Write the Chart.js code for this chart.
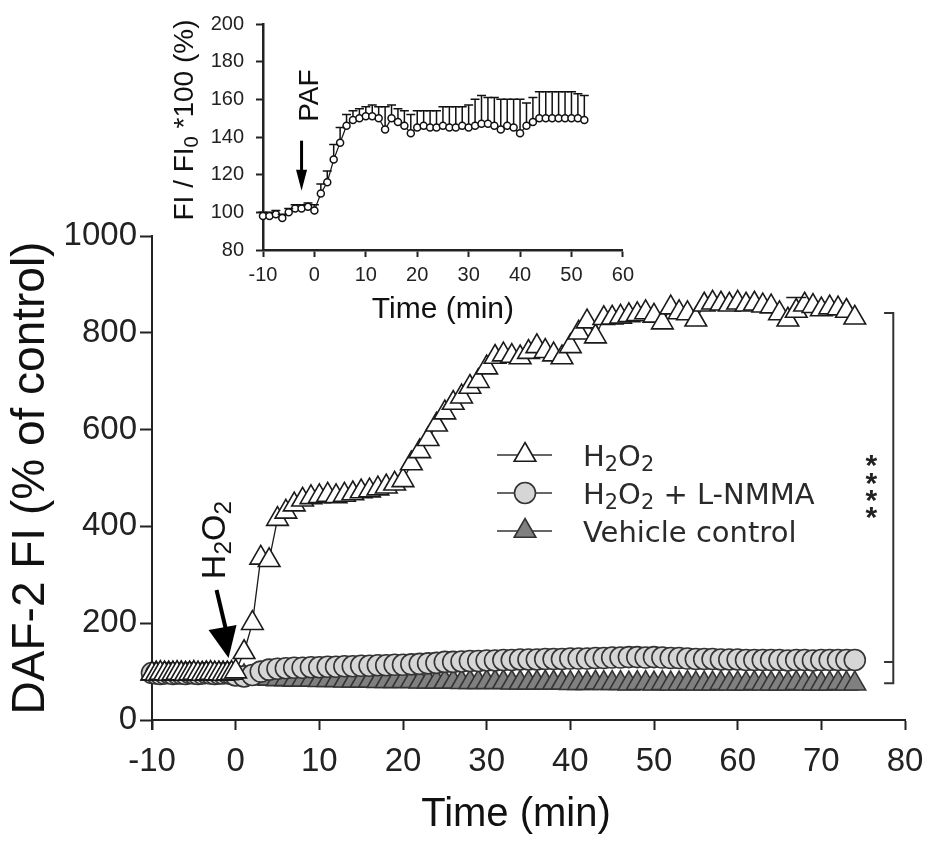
<!DOCTYPE html>
<html>
<head>
<meta charset="utf-8">
<script src="https://cdn.jsdelivr.net/npm/chart.js@4.4.0/dist/chart.umd.min.js"></script>
<style>
  html, body { margin: 0; padding: 0; background: #fff; }
  #wrap { position: relative; width: 944px; height: 843px; }
  #main { position: absolute; left: 0; top: 0; }
  #inset { position: absolute; left: 160px; top: 0; }
</style>
</head>
<body>
<div id="wrap">
  <canvas id="main" width="944" height="843"></canvas>
  <canvas id="inset" width="480" height="340"></canvas>
</div>
<script>
// ---- main panel data (time in min, DAF-2 FI in % of control) ----
const mainTime = [
  -10, -9.5, -9, -8.5, -8, -7.5, -7, -6.5, -6, -5.5, -5, -4.5, -4, -3.5, -3, -2.5, -2, -1.5, -1, -0.5,
  0, 1, 2, 3, 4, 5, 6, 7, 8, 9, 10, 11, 12, 13, 14, 15, 16, 17, 18, 19,
  20, 21, 22, 23, 24, 25, 26, 27, 28, 29, 30, 31, 32, 33, 34, 35, 36, 37, 38, 39,
  40, 41, 42, 43, 44, 45, 46, 47, 48, 49, 50, 51, 52, 53, 54, 55, 56, 57, 58, 59,
  60, 61, 62, 63, 64, 65, 66, 67, 68, 69, 70, 71, 72, 73, 74
];
const h2o2 = [
  96, 95, 97, 96, 95, 96, 97, 96, 95, 96, 97, 96, 95, 96, 97, 96, 96, 95, 96, 97,
  100, 140, 200, 335, 330, 415, 430, 445, 455, 460, 462, 465, 462, 465, 468, 472, 474, 478, 482, 488,
  495, 530, 555, 580, 610, 635, 655, 668, 688, 700, 728, 750, 755, 752, 749, 760, 772, 762, 755, 749,
  772, 800, 823, 792, 830, 831, 833, 836, 838, 842, 835, 821, 852, 842, 840, 827, 858, 862, 860, 858,
  862, 858, 860, 856, 854, 840, 827, 845, 858, 855, 848, 852, 850, 845, 831
];
const h2o2Sem = [
  3, 3, 3, 3, 3, 3, 3, 3, 3, 3, 3, 3, 3, 3, 3, 3, 3, 3, 3, 3,
  4, 8, 12, 18, 18, 14, 12, 12, 13, 12, 12, 13, 12, 12, 13, 12, 12, 13, 12, 12,
  14, 16, 18, 18, 20, 18, 18, 20, 18, 18, 20, 20, 18, 18, 20, 22, 20, 18, 20, 22,
  20, 20, 22, 24, 20, 18, 22, 24, 20, 22, 25, 22, 20, 24, 22, 20, 22, 24, 22, 20,
  22, 24, 20, 22, 22, 25, 24, 28, 22, 20, 22, 24, 22, 20, 22
];
const lnmma = [
  97, 96, 95, 96, 97, 95, 96, 96, 95, 97, 96, 95, 96, 97, 96, 95, 96, 96, 97, 95,
  92, 90, 93, 100, 104, 106, 107, 108, 108, 109, 109, 110, 110, 111, 111, 112, 112, 113, 113, 114,
  114, 115, 116, 117, 118, 120, 120, 121, 122, 122, 123, 123, 124, 124, 125, 125, 125, 126, 126, 126,
  127, 127, 127, 128, 128, 129, 129, 130, 130, 129, 130, 129, 128, 128, 127, 126, 126, 126, 125, 125,
  125, 124, 124, 124, 124, 124, 123, 124, 124, 123, 124, 124, 124, 124, 124
];
const vehicle = [
  95, 96, 94, 95, 96, 95, 94, 96, 95, 95, 96, 94, 95, 96, 95, 94, 95, 96, 95, 94,
  92, 90, 88, 86, 85, 84, 84, 83, 83, 83, 82, 82, 82, 81, 81, 81, 81, 80, 80, 80,
  80, 80, 79, 79, 79, 79, 79, 78, 78, 78, 78, 78, 78, 77, 77, 77, 77, 77, 77, 77,
  76, 76, 76, 77, 76, 76, 76, 75, 76, 76, 75, 76, 75, 75, 76, 75, 75, 75, 76, 75,
  75, 75, 76, 75, 75, 75, 75, 76, 75, 75, 75, 75, 76, 75, 75
];

// ---- inset data (PAF, FI / FI0 * 100) ----
const insetTime = [
  -10, -8.75, -7.5, -6.25, -5, -3.75, -2.5, -1.25,
  0, 1.25, 2.5, 3.75, 5, 6.25, 7.5, 8.75, 10, 11.25, 12.5,
  13.75, 15, 16.25, 17.5, 18.75,
  20, 21.25, 22.5, 23.75, 25, 26.25, 27.5, 28.75, 30,
  31.25, 32.5, 33.75, 35, 36.25, 37.5, 38.75, 40,
  41.25, 42.5,
  43.75, 45, 46.25, 47.5, 48.75, 50, 51.25, 52.5
];
const paf = [
  98, 98, 99, 97, 100, 102, 102, 103,
  101, 110, 116, 128, 137, 146, 149, 150, 151, 151, 150,
  144, 150, 148, 146, 142,
  145, 146, 145, 145, 146, 145, 145, 146, 145,
  146, 147, 147, 146, 144, 146, 145, 142,
  146, 148,
  150, 150, 150, 150, 150, 150, 150, 149
];
const pafSem = [
  2, 2, 2, 2, 2, 2, 2, 2,
  3, 5, 6, 8, 8, 6, 5, 5, 5, 6, 6,
  12, 7, 7, 8, 10,
  9, 8, 9, 9, 10, 11, 11, 10, 12,
  14, 15, 14, 15, 16, 14, 15, 18,
  12, 13,
  14, 14, 14, 14, 14, 14, 13, 13
];

const FONT = '"Liberation Sans", Arial, sans-serif';
const WIDE = '"DejaVu Sans", sans-serif';
const INK = '#1a1a1a';
Chart.defaults.font.family = FONT;

function pts(xs, ys) {
  return xs.map((x, i) => ({ x: x, y: ys[i] }));
}

// draw text with subscript pieces; parts = [[text, isSub], ...]; y is baseline
function richText(ctx, parts, x, y, size, family, align) {
  const subSize = size * 0.72;
  let w = 0;
  parts.forEach(([t, sub]) => {
    ctx.font = (sub ? subSize : size) + 'px ' + family;
    w += ctx.measureText(t).width;
  });
  let cx = align === 'center' ? x - w / 2 : x;
  ctx.textAlign = 'left';
  ctx.textBaseline = 'alphabetic';
  parts.forEach(([t, sub]) => {
    ctx.font = (sub ? subSize : size) + 'px ' + family;
    ctx.fillText(t, cx, sub ? y + size * 0.18 : y);
    cx += ctx.measureText(t).width;
  });
}

// upward error bars, drawn from the top of each marker
const errorBars = {
  id: 'errorBars',
  afterDatasetsDraw(chart) {
    const ctx = chart.ctx;
    const ys = chart.scales.y;
    chart.data.datasets.forEach((ds, i) => {
      if (!ds.sem) return;
      const meta = chart.getDatasetMeta(i);
      ctx.save();
      ctx.strokeStyle = ds.pointBorderColor;
      ctx.lineWidth = ds.errWidth;
      meta.data.forEach((pt, j) => {
        const top = ys.getPixelForValue(ds.data[j].y + ds.sem[j]);
        const start = pt.y - ds.pointRadius;
        if (top >= start) return;
        ctx.beginPath();
        ctx.moveTo(pt.x, start);
        ctx.lineTo(pt.x, top);
        ctx.moveTo(pt.x - ds.capHalf, top);
        ctx.lineTo(pt.x + ds.capHalf, top);
        ctx.stroke();
      });
      ctx.restore();
    });
  }
};

const mainSets = [
  { label: 'H2O2', data: pts(mainTime, h2o2), sem: h2o2Sem, pointStyle: 'triangle', pointRadius: 12.5,
    pointBackgroundColor: '#fff', pointBorderColor: INK, borderColor: INK, errWidth: 1.6, capHalf: 10 },
  { label: 'H2O2 + L-NMMA', data: pts(mainTime, lnmma), pointStyle: 'circle', pointRadius: 10.5,
    pointBackgroundColor: '#d6d6d6', pointBorderColor: '#333', borderColor: '#333' },
  { label: 'Vehicle control', data: pts(mainTime, vehicle), pointStyle: 'triangle', pointRadius: 12.5,
    pointBackgroundColor: '#808080', pointBorderColor: '#333', borderColor: '#333' }
];
mainSets.forEach(ds => {
  ds.borderWidth = 1.3;
  ds.pointBorderWidth = 1.6;
  ds.pointHoverRadius = ds.pointRadius;
  ds.tension = 0;
  ds.clip = false;
});

// legend, arrow, bracket, stars and x title of the main panel
const mainNotes = {
  id: 'mainNotes',
  afterDraw(chart) {
    const ctx = chart.ctx;
    const xs = chart.scales.x, ys = chart.scales.y;
    ctx.save();

    // y axis runs a little below the x axis
    ctx.strokeStyle = '#222';
    ctx.lineWidth = 2;
    ctx.beginPath();
    ctx.moveTo(chart.chartArea.left, chart.chartArea.bottom);
    ctx.lineTo(chart.chartArea.left, chart.chartArea.bottom + 10);
    ctx.stroke();

    // legend
    const rows = [
      { parts: [['H'], ['2', 1], ['O'], ['2', 1]], y: 455 },
      { parts: [['H'], ['2', 1], ['O'], ['2', 1], [' + L-NMMA']], y: 493 },
      { parts: [['Vehicle control']], y: 531 }
    ];
    rows.forEach((r, i) => {
      const ds = mainSets[i];
      ctx.strokeStyle = '#333';
      ctx.lineWidth = 1.5;
      ctx.beginPath();
      ctx.moveTo(497, r.y);
      ctx.lineTo(552, r.y);
      ctx.stroke();
      ctx.fillStyle = ds.pointBackgroundColor;
      ctx.strokeStyle = ds.pointBorderColor;
      ctx.lineWidth = 1.6;
      Chart.helpers.drawPoint(ctx, { pointStyle: ds.pointStyle, radius: ds.pointRadius, rotation: 0, borderWidth: 1.6 }, 525, r.y);
      ctx.fillStyle = '#2a2a2a';
      richText(ctx, r.parts, 583, r.y + 10.5, 29, WIDE, 'left');
    });

    // H2O2 addition arrow
    const tx = xs.getPixelForValue(-0.85), ty = ys.getPixelForValue(128);
    ctx.strokeStyle = '#000';
    ctx.fillStyle = '#000';
    ctx.lineWidth = 4;
    ctx.beginPath();
    ctx.moveTo(tx - 12, ty - 68);
    ctx.lineTo(tx - 3, ty - 30);
    ctx.stroke();
    ctx.beginPath();
    ctx.moveTo(tx - 20, ty - 28);
    ctx.lineTo(tx + 8, ty - 33);
    ctx.lineTo(tx, ty);
    ctx.closePath();
    ctx.fill();

    ctx.save();
    ctx.translate(tx - 16, ty - 118);
    ctx.rotate(-Math.PI / 2);
    ctx.fillStyle = '#111';
    richText(ctx, [['H'], ['2', 1], ['O'], ['2', 1]], 0, 12, 34, FONT, 'center');
    ctx.restore();

    // significance bracket
    const n = mainTime.length - 1;
    const bx = xs.getPixelForValue(78.6), bx0 = xs.getPixelForValue(77.5);
    const bTop = ys.getPixelForValue(h2o2[n] + 10);
    const bMid = ys.getPixelForValue(lnmma[n] - 4);
    const bBot = ys.getPixelForValue(vehicle[n] + 1);
    ctx.strokeStyle = '#333';
    ctx.lineWidth = 2;
    ctx.beginPath();
    ctx.moveTo(bx0, bTop); ctx.lineTo(bx, bTop); ctx.lineTo(bx, bBot); ctx.lineTo(bx0, bBot);
    ctx.moveTo(bx0, bMid); ctx.lineTo(bx, bMid);
    ctx.stroke();

    ctx.fillStyle = '#222';
    ctx.font = 'bold 30px ' + FONT;
    ctx.textAlign = 'center';
    ctx.textBaseline = 'alphabetic';
    [458, 476, 493, 510].forEach(sy => ctx.fillText('*', bx - 22, sy + 17));

    // x axis title
    ctx.fillStyle = '#111';
    ctx.font = '40px ' + FONT;
    ctx.textBaseline = 'middle';
    ctx.fillText('Time (min)', 516, 815);
    ctx.restore();
  }
};

new Chart(document.getElementById('main'), {
  type: 'line',
  data: { datasets: mainSets },
  plugins: [errorBars, mainNotes],
  options: {
    responsive: false,
    animation: false,
    devicePixelRatio: 1,
    layout: { padding: { top: 236, right: 39, left: 0, bottom: 0 } },
    plugins: { legend: { display: false }, tooltip: { enabled: false } },
    scales: {
      x: {
        type: 'linear', min: -10, max: 80,
        ticks: { stepSize: 10, color: '#222', font: { size: 33 }, padding: 12, maxRotation: 0, autoSkip: false },
        grid: { drawOnChartArea: false, tickLength: 10, tickWidth: 2, tickColor: '#222' },
        border: { color: '#222', width: 2 },
        afterFit: s => { s.height = 123; }
      },
      y: {
        min: 0, max: 1000,
        ticks: { stepSize: 200, color: '#222', font: { size: 33 }, padding: 3, callback: v => String(v) },
        grid: { drawOnChartArea: false, tickLength: 12, tickWidth: 2, tickColor: '#222' },
        border: { color: '#222', width: 2 },
        title: { display: true, text: 'DAF-2 FI (% of control)', color: '#111', font: { size: 46 }, padding: { top: 4, bottom: 0 } },
        afterFit: s => { s.width = 152; }
      }
    }
  }
});

// ---- inset ----
const insetNotes = {
  id: 'insetNotes',
  afterDraw(chart) {
    const ctx = chart.ctx;
    const xs = chart.scales.x, ys = chart.scales.y;
    ctx.save();

    // PAF arrow
    const ax = xs.getPixelForValue(-2.5), tip = ys.getPixelForValue(111.5);
    ctx.strokeStyle = '#000';
    ctx.fillStyle = '#000';
    ctx.lineWidth = 3;
    ctx.beginPath();
    ctx.moveTo(ax, tip - 50);
    ctx.lineTo(ax, tip - 18);
    ctx.stroke();
    ctx.beginPath();
    ctx.moveTo(ax - 5.5, tip - 21);
    ctx.lineTo(ax + 5.5, tip - 21);
    ctx.lineTo(ax, tip);
    ctx.closePath();
    ctx.fill();

    ctx.save();
    ctx.translate(ax + 6, tip - 95);
    ctx.rotate(-Math.PI / 2);
    ctx.fillStyle = '#111';
    ctx.font = '28px ' + FONT;
    ctx.textAlign = 'center';
    ctx.textBaseline = 'alphabetic';
    ctx.fillText('PAF', 0, 10);
    ctx.restore();

    // y title with subscript
    ctx.save();
    ctx.translate(23, 120);
    ctx.rotate(-Math.PI / 2);
    ctx.fillStyle = '#111';
    richText(ctx, [['FI / FI'], ['0', 1], [' *100 (%)']], 0, 10, 28, FONT, 'center');
    ctx.restore();
    ctx.restore();
  }
};

new Chart(document.getElementById('inset'), {
  type: 'line',
  data: {
    datasets: [{
      label: 'PAF', data: pts(insetTime, paf), sem: pafSem,
      borderColor: '#111', borderWidth: 1.2, tension: 0, clip: false,
      pointStyle: 'circle', pointRadius: 3.5, pointHoverRadius: 3.5,
      pointBackgroundColor: '#fff', pointBorderColor: '#111', pointBorderWidth: 1.5,
      errWidth: 1.5, capHalf: 4.5
    }]
  },
  plugins: [errorBars, insetNotes],
  options: {
    responsive: false,
    animation: false,
    devicePixelRatio: 1,
    layout: { padding: { top: 12, right: 12, left: 0, bottom: 0 } },
    plugins: { legend: { display: false }, tooltip: { enabled: false } },
    scales: {
      x: {
        type: 'linear', min: -10, max: 60,
        ticks: { stepSize: 10, color: '#222', font: { size: 20 }, padding: 6, maxRotation: 0, autoSkip: false },
        grid: { drawOnChartArea: false, tickLength: 7, tickWidth: 2, tickColor: '#222' },
        border: { color: '#222', width: 2.5 },
        title: { display: true, text: 'Time (min)', color: '#111', font: { size: 30 }, padding: { top: 0, bottom: 12 } },
        afterFit: s => { s.height = 90; }
      },
      y: {
        min: 80, max: 200,
        ticks: { stepSize: 20, color: '#222', font: { size: 20 }, padding: 12 },
        grid: { drawOnChartArea: false, tickLength: 7, tickWidth: 2, tickColor: '#222' },
        border: { color: '#222', width: 2.5 },
        afterFit: s => { s.width = 103; }
      }
    }
  }
});
</script>
</body>
</html>
